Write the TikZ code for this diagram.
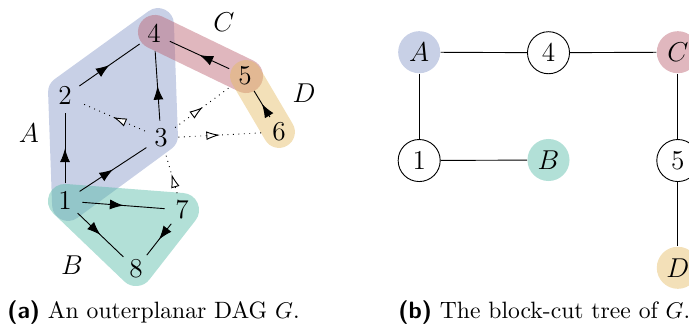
\documentclass[tikz,border=0pt]{standalone}
\usepackage{amssymb}
\usepackage{tikz}
\usetikzlibrary{matrix,arrows.meta,decorations.markings}

\definecolor{blockA}{RGB}{133,151,199}
\definecolor{blockB}{RGB}{84,186,166}
\definecolor{blockC}{RGB}{186,95,111}
\definecolor{blockD}{RGB}{228,186,97}

\tikzset{
	vtx/.style={circle, inner sep=0pt, minimum size=15pt, font=\fontsize{12}{14}\selectfont},
	arc/.style={thin, postaction={decorate}, decoration={markings, mark=at position .5 with {\arrow{Latex[length=6pt,width=4.4pt]}}}},
	aux/.style={thin, dotted, postaction={decorate}, decoration={markings, mark=at position .5 with {\arrow{Latex[length=6pt,width=3.8pt,fill=white]}}}},
	hull/.style={line width=#1, line join=round, line cap=round},
	tnode/.style={circle, inner sep=0pt, minimum size=18.5pt, font=\fontsize{12}{14}\selectfont},
	cut/.style={draw, fill=white},
	captext/.style={anchor=base west, inner sep=0pt, font=\fontsize{10.4}{13}\selectfont},
}

\begin{document}
\begin{tikzpicture}[x=0.44pt, y=-0.44pt]
\useasboundingbox (0,0) rectangle (689,334);

% blocks of G
\begin{scope}[transparency group, opacity=.45]
\filldraw[blockA, hull=14pt] (158,24) -- (162,136) -- (68,205) -- (64,92) -- cycle;
\end{scope}
\begin{scope}[transparency group, opacity=.45]
\filldraw[blockB, hull=15pt] (65,201) -- (182,210) -- (136,269) -- cycle;
\end{scope}
\begin{scope}[transparency group, opacity=.45]
\draw[blockC, hull=15pt] (155,32) -- (246,76);
\end{scope}
\begin{scope}[transparency group, opacity=.45]
\draw[blockD, hull=14pt] (246,76) -- (279,132);
\end{scope}

% vertices
\node[vtx] (n1) at (65,201) {$1$};
\node[vtx] (n2) at (65,96) {$2$};
\node[vtx] (n3) at (161,138) {$3$};
\node[vtx] (n4) at (154,34) {$4$};
\node[vtx] (n5) at (245,76) {$5$};
\node[vtx] (n6) at (279,132) {$6$};
\node[vtx] (n7) at (182,210) {$7$};
\node[vtx] (n8) at (136,269) {$8$};

\node[vtx] (lA) at (29,133) {$A$};
\node[vtx] (lB) at (72,265) {$B$};
\node[vtx] (lC) at (224,22) {$C$};
\node[vtx] (lD) at (304,93) {$D$};

\path
(n1) edge[arc] (n2)
	edge[arc] (n3)
	edge[arc] (n7)
	edge[arc] (n8)
(n2) edge[arc] (n4)
(n3) edge[arc] (n4)
(n5) edge[arc] (n4)
(n6) edge[arc] (n5)
(n7) edge[arc] (n8)
;
\path
(n3) edge[aux] (n2)
	edge[aux] (n5)
	edge[aux] (n6)
(n7) edge[aux] (n3)
;

% block-cut tree
\matrix (t) [matrix of math nodes, row sep=28.5pt, column sep=38pt, nodes={tnode}] at (548.5,160)
{
	|[fill=blockA!45]| A & |[cut]| 4 & |[fill=blockC!45]| C \\
	|[cut]| 1 & |[fill=blockB!45]| B & |[cut]| 5 \\
	& & |[fill=blockD!45]| D \\
};
\path[-]
(t-1-1) edge (t-1-2)
	edge (t-2-1)
(t-1-2) edge (t-1-3)
(t-2-1) edge (t-2-2)
(t-1-3) edge (t-2-3)
(t-2-3) edge (t-3-3)
;

% captions
\node[captext] (capa) at (7,319) {\textsf{\bfseries (a)} An outerplanar DAG $G$.};
\node[captext] (capb) at (398,319) {\textsf{\bfseries (b)} The block-cut tree of $G$.};
\end{tikzpicture}
\end{document}
